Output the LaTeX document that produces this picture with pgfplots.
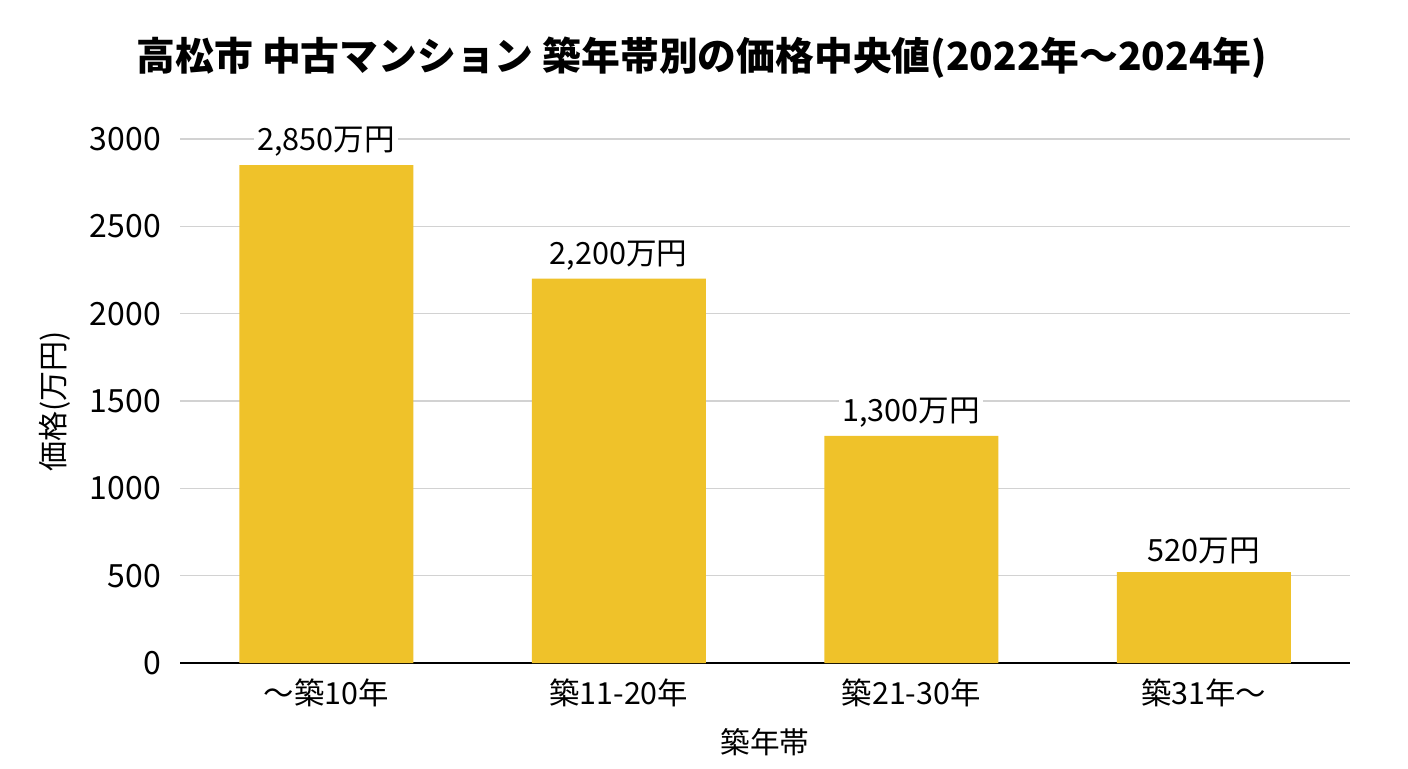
\documentclass[border=0pt]{standalone}
\usepackage{fontspec}
\setmainfont{Noto Sans CJK JP}
\usepackage{pgfplots}
\pgfplotsset{compat=1.18}
\definecolor{baryellow}{HTML}{EFC22A}
\definecolor{gridgray}{HTML}{D2D2D2}
\begin{document}
\begin{tikzpicture}
\useasboundingbox (0,0) rectangle (704pt,384pt);
\begin{axis}[
  at={(90pt,52.5pt)}, anchor=south west,
  scale only axis, width=585pt, height=262pt,
  xmin=-0.5, xmax=3.5, ymin=0, ymax=3000,
  ytick={0,500,...,3000},
  xtick={0,1,2,3},
  xticklabels={～築10年,築11-20年,築21-30年,築31年～},
  axis x line*=bottom, axis y line*=left,
  y axis line style={draw=none},
  x axis line style={black, line width=0.7pt},
  ymajorgrids, grid style={gridgray, line width=0.6pt},
  major tick length=0pt,
  /pgf/number format/assume math mode=true,
  /pgf/number format/1000 sep={},
  xticklabel style={yshift=-4.5pt, font=\fontsize{15.2}{18}\selectfont},
  yticklabel style={xshift=-6pt, font=\fontsize{16}{19}\selectfont},
  xlabel={築年帯},
  xlabel style={at={(axis description cs:0.5,0)}, anchor=center, yshift=-39.5pt, font=\fontsize{14.8}{17}\selectfont},
  ylabel={価格(万円)},
  ylabel style={at={(axis description cs:-0.107,0.5)}, anchor=center, font=\fontsize{15}{17}\selectfont},
  title={高松市 中古マンション 築年帯別の価格中央値(2022年〜2024年)},
  title style={at={(axis description cs:0.5,1)}, anchor=center, yshift=34.5pt, xshift=-31.5pt, font=\fontsize{19.4}{23}\selectfont\bfseries},
  ybar, bar width=87pt,
  nodes near coords, point meta=explicit symbolic,
  every node near coord/.append style={font=\fontsize{15.3}{18}\selectfont, fill=white, inner sep=1.5pt, yshift=2.5pt},
]
\addplot[ybar, fill=baryellow, draw=none] table[x=x, y=y, meta=label] {
x y label
0 2850 2,850万円
1 2200 2,200万円
2 1300 1,300万円
3 520 520万円
};
\end{axis}
\end{tikzpicture}
\end{document}
